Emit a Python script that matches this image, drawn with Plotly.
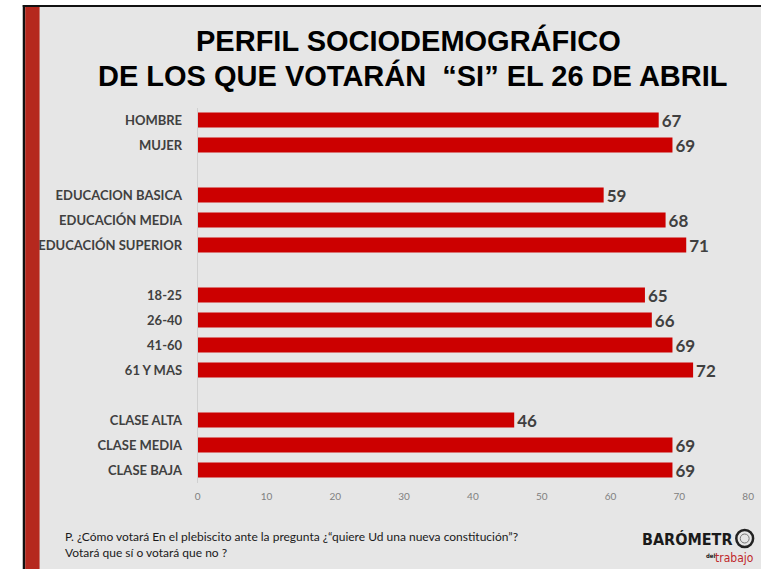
import plotly.graph_objects as go

W, H = 767, 569

categories = ["HOMBRE", "MUJER", " ", "EDUCACION BASICA", "EDUCACIÓN MEDIA", "EDUCACIÓN SUPERIOR",
              "  ", "18-25", "26-40", "41-60", "61 Y MAS", "   ", "CLASE ALTA", "CLASE MEDIA", "CLASE BAJA"]
values = [67, 69, None, 59, 68, 71, None, 65, 66, 69, 72, None, 46, 69, 69]
x_ticks = [0, 10, 20, 30, 40, 50, 60, 70, 80]

title_lines = ["PERFIL SOCIODEMOGRÁFICO", "DE LOS QUE VOTARÁN  “SI” EL 26 DE ABRIL"]
footnote = ["P. ¿Cómo votará En el plebiscito ante la pregunta ¿“quiere Ud una nueva constitución”?",
            "Votará que sí o votará que no ?"]

COND = "DejaVu Sans Condensed, Liberation Sans"

def px(x):
    return x / W

def py(y):
    return 1 - y / H

fig = go.Figure()
fig.add_trace(go.Bar(
    y=categories, x=values, orientation="h",
    marker=dict(color="#CC0000", line=dict(width=0)),
    text=[("" if v is None else str(v)) for v in values],
    textposition="outside", cliponaxis=False, constraintext="none",
    textfont=dict(family="Lato", size=17, color="#404040", weight="bold"),
    hoverinfo="skip",
))

shapes = [
    dict(type="rect", xref="paper", yref="paper", x0=px(20), x1=1.0, y0=0, y1=py(5),
         fillcolor="#E6E6E6", line=dict(width=0), layer="below"),
    dict(type="rect", xref="paper", yref="paper", x0=px(20), x1=1.0, y0=py(7), y1=py(5),
         fillcolor="#111111", line=dict(width=0), layer="below"),
    dict(type="rect", xref="paper", yref="paper", x0=px(20), x1=px(22.5), y0=0, y1=py(5),
         fillcolor="#111111", line=dict(width=0), layer="below"),
    dict(type="rect", xref="paper", yref="paper", x0=px(22.5), x1=px(37), y0=0, y1=py(7),
         fillcolor="#B5281E", line=dict(width=0), layer="below"),
    dict(type="circle", xref="paper", yref="paper", x0=px(742), x1=px(759), y0=py(547), y1=py(530),
         fillcolor="rgba(0,0,0,0)", line=dict(color="#222222", width=2.5)),
    dict(type="circle", xref="paper", yref="paper", x0=px(746), x1=px(755), y0=py(543), y1=py(534),
         fillcolor="rgba(0,0,0,0)", line=dict(color="#777777", width=1)),
]

annotations = [
    dict(text=title_lines[0], x=px(410), y=py(40), xref="paper", yref="paper", showarrow=False,
         xanchor="center", yanchor="middle",
         font=dict(family="Liberation Sans", size=29, color="#000000", weight="bold")),
    dict(text=title_lines[1], x=px(415), y=py(75), xref="paper", yref="paper", showarrow=False,
         xanchor="center", yanchor="middle",
         font=dict(family="Liberation Sans", size=29, color="#000000", weight="bold")),
    dict(text=footnote[0], x=px(61), y=py(536), xref="paper", yref="paper", showarrow=False,
         xanchor="left", yanchor="middle", font=dict(family="Lato", size=12, color="#1A1A1A")),
    dict(text=footnote[1], x=px(61), y=py(552), xref="paper", yref="paper", showarrow=False,
         xanchor="left", yanchor="middle", font=dict(family="Lato", size=12, color="#1A1A1A")),
    dict(text="BARÓMETR", x=px(741), y=py(539), xref="paper", yref="paper", showarrow=False,
         xanchor="right", yanchor="middle",
         font=dict(family=COND, size=16, color="#1A1A1A", weight="bold")),
    dict(text="trabajo", x=px(762), y=py(558), xref="paper", yref="paper", showarrow=False,
         xanchor="right", yanchor="middle",
         font=dict(family=COND, size=12, color="#C0282A")),
    dict(text="del", x=px(723), y=py(555), xref="paper", yref="paper", showarrow=False,
         xanchor="right", yanchor="middle",
         font=dict(family=COND, size=6, color="#1A1A1A", weight="bold")),
]

fig.update_layout(
    width=W, height=H,
    autosize=False,
    margin=dict(l=0, r=0, t=0, b=0),
    paper_bgcolor="#FFFFFF",
    plot_bgcolor="rgba(0,0,0,0)",
    showlegend=False,
    bargap=0.4,
    shapes=shapes,
    annotations=annotations,
    xaxis=dict(domain=[px(197), px(754)], range=[0, 80], tickvals=x_ticks,
               showgrid=False, zeroline=False, showline=False,
               tickfont=dict(family="Lato", size=10, color="#808080"),
               ticks="", ticklabelstandoff=6, fixedrange=True),
    yaxis=dict(domain=[py(482.5), py(107.5)], type="category", categoryorder="array",
               categoryarray=categories, autorange="reversed",
               showgrid=False, zeroline=False, showline=True, linecolor="#D0D0D0", linewidth=1,
               tickfont=dict(family="Lato", size=13, color="#404040", weight="bold"),
               ticks="", ticklabelstandoff=12, fixedrange=True),
)

fig.write_html(
    "out.html",
    config={"responsive": False, "displayModeBar": False},
    post_script="document.body.style.margin='0';document.body.style.padding='0';"
                "document.body.style.overflow='hidden';",
)
